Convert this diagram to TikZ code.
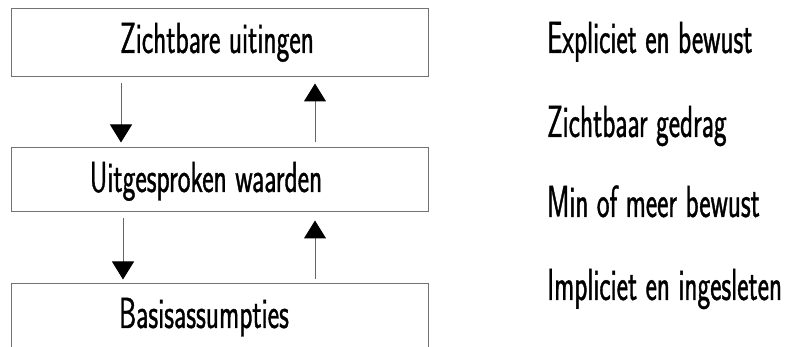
\documentclass[tikz,border=0pt]{standalone}
\usepackage{fontspec}
\setmainfont[FakeStretch=0.6,FakeBold=0.8]{Latin Modern Sans}
\newfontfamily\boxfont[FakeStretch=0.625,FakeBold=0.8]{Latin Modern Sans}
\usetikzlibrary{arrows.meta}
\begin{document}
\begin{tikzpicture}[x=1pt,y=1pt,
  box/.style={draw=black!55,line width=1pt,rectangle,minimum width=417pt,inner sep=0pt},
  boxtext/.style={anchor=base,inner sep=0pt,font=\boxfont\fontsize{43.5}{45}\selectfont},
  lbl/.style={anchor=base west,inner sep=0pt,font=\fontsize{45}{47}\selectfont},
  arr/.style={draw=black!60,line width=1pt,-{Triangle[width=22pt,length=18pt,color=black]}}]
\useasboundingbox (0,0) rectangle (804,-347);
\clip (0,0) rectangle (804,-347);
\node[box,minimum height=68pt] (top) at (219.5,-43) {};
\node[box,minimum height=64pt] (mid) at (219.5,-180) {};
\node[box,minimum height=80pt] (bot) at (219.5,-324) {};
\node[boxtext] (t1) at (217,-53) {Zichtbare uitingen};
\node[boxtext] (t2) at (206,-192) {Uitgesproken waarden};
\node[boxtext] (t3) at (204,-328) {Basisassumpties};
\coordinate (xa) at (121,0);
\coordinate (xb) at (315,0);
\coordinate (xc) at (123,0);
\draw[arr,shorten <=6pt,shorten >=5pt] (top.south -| xa) -- (mid.north -| xa);
\draw[arr,shorten <=5pt,shorten >=6pt] (mid.north -| xb) -- (top.south -| xb);
\draw[arr,shorten <=6pt,shorten >=4pt] (mid.south -| xc) -- (bot.north -| xc);
\draw[arr,shorten <=4pt,shorten >=8pt] (bot.north -| xb) -- (mid.south -| xb);
\node[lbl] (r1) at (547,-53) {Expliciet en bewust};
\node[lbl] (r2) at (547,-137) {Zichtbaar gedrag};
\node[lbl] (r3) at (547,-217) {Min of meer bewust};
\node[lbl] (r4) at (547,-300) {Impliciet en ingesleten};
\end{tikzpicture}
\end{document}
